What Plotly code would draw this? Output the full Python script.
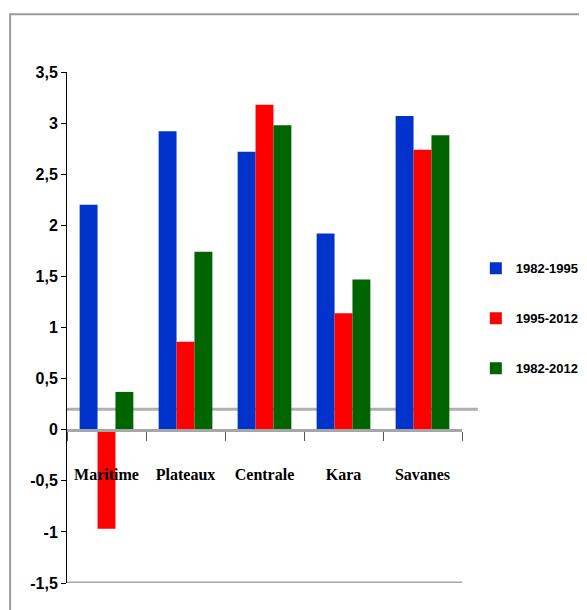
import plotly.graph_objects as go

categories = ["Maritime", "Plateaux", "Centrale", "Kara", "Savanes"]
series_names = ["1982-1995", "1995-2012", "1982-2012"]
v_1982_1995 = [2.20, 2.92, 2.72, 1.92, 3.07]
v_1995_2012 = [-0.97, 0.86, 3.18, 1.14, 2.74]
v_1982_2012 = [0.37, 1.74, 2.98, 1.47, 2.88]
y_tickvals = [-1.5, -1, -0.5, 0, 0.5, 1, 1.5, 2, 2.5, 3, 3.5]
y_ticktext = ["-1,5", "-1", "-0,5", "0", "0,5", "1", "1,5", "2", "2,5", "3", "3,5"]

colors = ["#0033cc", "#ff0000", "#006400"]
values = [v_1982_1995, v_1995_2012, v_1982_2012]

fig = go.Figure()
for name, vals, col in zip(series_names, values, colors):
    fig.add_trace(go.Bar(
        x=categories, y=vals, name="<b>" + name + "</b>", legendgroup=name,
        marker=dict(color=col, line=dict(width=0)),
    ))

sans = "Liberation Sans Narrow, Arial Narrow, Liberation Sans, Arial"
serif = "Liberation Serif, Times New Roman, serif"

fig.update_layout(
    width=579, height=602,
    margin=dict(l=59, r=125, t=64, b=27, autoexpand=False),
    paper_bgcolor="white", plot_bgcolor="white",
    barmode="group", bargap=0.32, bargroupgap=0,
    showlegend=True,
    legend=dict(
        x=1.035, y=0.645, xanchor="left", yanchor="top",
        font=dict(family=sans, size=13, color="black"),
        tracegroupgap=30, itemwidth=30,
        bgcolor="rgba(0,0,0,0)",
    ),
    xaxis=dict(
        anchor="free", position=0.3,
        tickvals=categories, ticktext=["<b>" + c + "</b>" for c in categories],
        tickangle=0,
        showline=True, linecolor="#a6a6a6", linewidth=3,
        ticks="outside", tickson="boundaries", ticklen=9, tickcolor="#555555", tickwidth=1,
        ticklabelstandoff=29,
        tickfont=dict(family=serif, size=16, color="black"),
        showgrid=False, zeroline=False,
    ),
    yaxis=dict(
        range=[-1.5, 3.5], tickvals=y_tickvals,
        ticktext=["<b>" + t + "</b>" for t in y_ticktext],
        showline=True, linecolor="black", linewidth=1,
        ticks="outside", ticklen=5, tickcolor="black",
        tickfont=dict(family=sans, size=16, color="black"),
        showgrid=False, zeroline=False,
    ),
    shapes=[
        dict(type="line", xref="x domain", yref="y", x0=0, x1=1, y0=-1.5, y1=-1.5,
             line=dict(color="#a6a6a6", width=3), layer="below"),
        dict(type="line", xref="x domain", yref="y", x0=0.0, x1=1.04, y0=0.2, y1=0.2,
             line=dict(color="#b0b0b0", width=3), layer="below"),
        dict(type="rect", xref="paper", yref="paper", x0=-0.144, x1=1.5, y0=-0.2, y1=1.113,
             line=dict(color="#9a9a9a", width=2), fillcolor="rgba(0,0,0,0)", layer="below"),
    ],
)

fig.write_html("out.html")
